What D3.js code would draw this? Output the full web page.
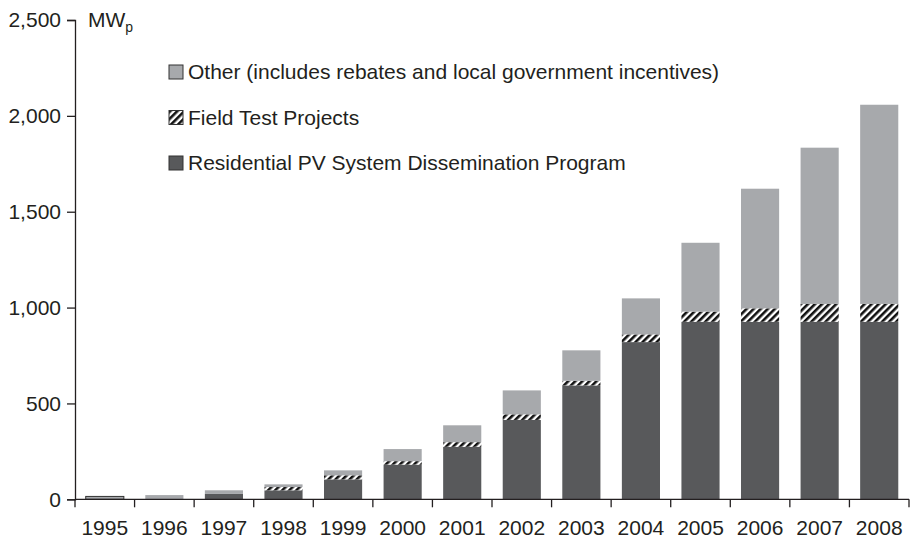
<!DOCTYPE html>
<html>
<head>
<meta charset="utf-8">
<script src="https://cdn.jsdelivr.net/npm/d3@7"></script>
<style>
body { margin: 0; background: #fff; }
text { font-family: "Liberation Sans", Arial, sans-serif; fill: #231f20; }
</style>
</head>
<body>
<div id="chart"></div>
<script>
// values (MWp)
var years = ["1995","1996","1997","1998","1999","2000","2001","2002","2003","2004","2005","2006","2007","2008"];
var residential = [0, 0, 28, 47, 104, 181, 274, 414, 594, 820, 926, 926, 926, 926];
var fieldTest = [0, 0, 0, 17, 21, 18, 24, 29, 24, 40, 53, 70, 93, 93];
var other = [15, 22, 19, 14, 26, 63, 88, 125, 159, 188, 359, 624, 815, 1039];
var yTicks = [0, 500, 1000, 1500, 2000, 2500];
var legendLabels = ["Other (includes rebates and local government incentives)", "Field Test Projects", "Residential PV System Dissemination Program"];

var width = 910;
var height = 539;
var plotLeft = 75, plotRight = 909, plotTop = 20, plotBottom = 499.3;
var fontSize = "21px";

var svg = d3.select("#chart").append("svg").attr("width", width).attr("height", height);

var defs = svg.append("defs");
var hatch = defs.append("pattern").attr("id", "hatch").attr("patternUnits", "userSpaceOnUse")
    .attr("width", 5).attr("height", 5).attr("patternTransform", "rotate(45)");
hatch.append("rect").attr("width", 5).attr("height", 5).attr("fill", "#fff");
hatch.append("rect").attr("width", 2.6).attr("height", 5).attr("fill", "#111");

var colors = {residential: "#58595b", field: "url(#hatch)", other: "#a7a9ac"};

var table = years.map(function(y, i){
    return {year: y, residential: residential[i], field: fieldTest[i], other: other[i]};
});
var stack = d3.stack().keys(["residential", "field", "other"])(table);

var x = d3.scaleBand().domain(years).range([plotLeft, plotRight]).paddingInner(0.36).paddingOuter(0.18);
var xTicksScale = d3.scaleLinear().domain([0, years.length]).range([plotLeft, plotRight]);
var y = d3.scaleLinear().domain([0, 2500]).range([plotBottom, plotTop]);

// bars
svg.selectAll("g.series").data(stack).enter().append("g").attr("class", "series")
    .attr("fill", function(d){ return colors[d.key]; })
    .selectAll("rect").data(function(d){ return d; }).enter().append("rect")
    .attr("x", function(d){ return x(d.data.year); })
    .attr("width", x.bandwidth())
    .attr("y", function(d){ return y(d[1]); })
    .attr("height", function(d){ return y(d[0]) - y(d[1]); })
    .attr("stroke", function(d){ return d.data.year === "1995" && d[1] > d[0] ? "#333" : "none"; })
    .attr("stroke-width", 1);

// y axis
var yAxis = d3.axisLeft(y).tickValues(yTicks).tickFormat(d3.format(",")).tickSize(8).tickPadding(6);
var ya = svg.append("g").attr("transform", "translate(" + plotLeft + ",0)").call(yAxis);
ya.select(".domain").attr("stroke", "#231f20").attr("stroke-width", 1.3);
ya.selectAll(".tick line").attr("stroke", "#231f20").attr("stroke-width", 1.3);
ya.selectAll("text").style("font-size", fontSize).attr("fill", "#231f20").attr("font-family", null);

// x axis with ticks between the bars
var xa = svg.append("g").attr("transform", "translate(0," + plotBottom + ")");
xa.append("line").attr("x1", plotLeft).attr("x2", plotRight).attr("stroke", "#231f20").attr("stroke-width", 1.3);
xa.selectAll("line.tk").data(d3.range(years.length + 1)).enter().append("line").attr("class", "tk")
    .attr("x1", function(d){ return xTicksScale(d); }).attr("x2", function(d){ return xTicksScale(d); })
    .attr("y1", 0).attr("y2", 8).attr("stroke", "#231f20").attr("stroke-width", 1.3);
xa.selectAll("text").data(years).enter().append("text")
    .attr("x", function(d){ return x(d) + x.bandwidth() / 2; })
    .attr("y", 36).attr("text-anchor", "middle").style("font-size", fontSize).text(function(d){ return d; });

// unit label
var unit = svg.append("text").attr("x", 88).attr("y", 27).style("font-size", fontSize);
unit.append("tspan").text("MW");
unit.append("tspan").attr("dy", 5).style("font-size", "14px").text("p");

// legend
var legendFills = [colors.other, colors.field, colors.residential];
var lg = svg.selectAll("g.legend").data(legendLabels).enter().append("g").attr("class", "legend")
    .attr("transform", function(d, i){ return "translate(169," + (65 + i * 45.5) + ")"; });
lg.append("rect").attr("width", 14).attr("height", 14)
    .attr("fill", function(d, i){ return legendFills[i]; })
    .attr("stroke", "#333").attr("stroke-width", 1);
lg.append("text").attr("x", 19).attr("y", 7).attr("dy", "0.35em").style("font-size", fontSize)
    .text(function(d){ return d; });
</script>
</body>
</html>
